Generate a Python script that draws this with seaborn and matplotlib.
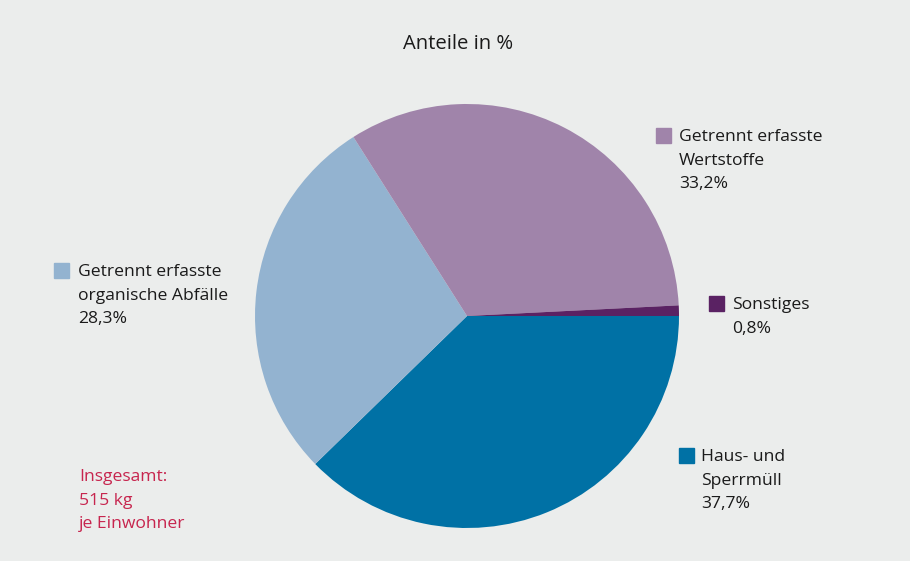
import seaborn as sns
import matplotlib.pyplot as plt

# Abfallaufkommen, Anteile in %
categories = ["Haus- und\nSperrmüll", "Getrennt erfasste\norganische Abfälle",
              "Getrennt erfasste\nWertstoffe", "Sonstiges"]
shares = [37.7, 28.3, 33.2, 0.8]
share_labels = ["37,7%", "28,3%", "33,2%", "0,8%"]
colors = ["#0071A5", "#93B3D0", "#A084AA", "#5A2263"]

bg = "#EBEDEC"
sns.set_theme(style="white")
plt.rcParams["font.family"] = ["Open Sans", "DejaVu Sans"]

fig = plt.figure(figsize=(9.1, 5.61), dpi=100, facecolor=bg)
W, H = 910, 561

# pie axes: centre ~ (467, 316) px, radius ~ 212 px
cx, cy, r = 467, 316, 212
ax = fig.add_axes([(cx - r) / W, (H - cy - r) / H, 2 * r / W, 2 * r / H])
ax.set_facecolor(bg)
ax.pie(shares, colors=colors, startangle=0, counterclock=False,
       wedgeprops=dict(linewidth=0))
ax.set_xlim(-1, 1)
ax.set_ylim(-1, 1)
ax.set_aspect("equal")
ax.axis("off")

fig.text(458 / W, 1 - 44 / H, "Anteile in %", ha="center", va="center",
         fontsize=14.6, color="#1a1a1a")

# legend-like labels: (square x, square y top, text x)
label_pos = [(679, 448, 701), (54, 263, 78), (656, 128, 679), (709, 296, 732)]
sq = 15
fs = 12.6
for (sx, sy, tx), name, pct, col in zip(label_pos, categories, share_labels, colors):
    fig.patches.append(plt.Rectangle((sx / W, 1 - (sy + sq) / H), sq / W, sq / H,
                                     transform=fig.transFigure, color=col))
    fig.text(tx / W, 1 - (sy + 1) / H, name + "\n" + pct, ha="left", va="top",
             fontsize=fs, color="#1a1a1a", linespacing=1.63)

fig.text(79 / W, 1 - 469 / H, "Insgesamt:\n515 kg\nje Einwohner", ha="left", va="top",
         fontsize=fs, color="#C7254E", linespacing=1.63)

fig.savefig("out.png", dpi=100, facecolor=bg)
